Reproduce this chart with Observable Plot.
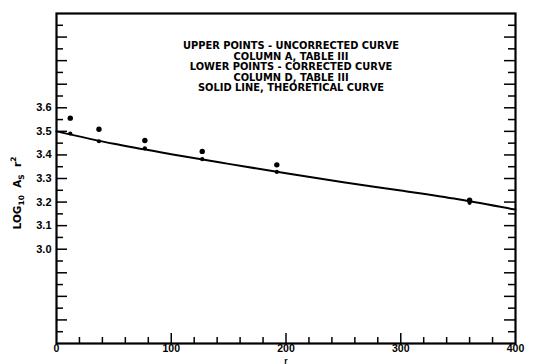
<!DOCTYPE html>
<html><head><meta charset="utf-8">
<script src="https://cdn.jsdelivr.net/npm/d3@7"></script>
<script src="https://cdn.jsdelivr.net/npm/@observablehq/plot@0.6"></script>
<style>html,body{margin:0;padding:0;background:#fff} svg{display:block}</style>
</head><body><div id="chart"></div>
<script>
// Measured points (r, log10 As r^2)
const rPoints = [12, 37, 77, 127, 192, 360];
const upperPoints = [3.556, 3.509, 3.461, 3.415, 3.358, 3.208];   // uncorrected, column A
const lowerPoints = [3.491, 3.458, 3.428, 3.382, 3.328, 3.197];   // corrected, column D
// Theoretical curve
const rTheory = [0, 50, 100, 150, 200, 250, 300, 350, 400];
const theory = [3.500, 3.447, 3.403, 3.362, 3.322, 3.284, 3.249, 3.212, 3.168];
// Tick values
const xTickLabels = [0, 100, 200, 300, 400];
const xMinorTicks = [20, 40, 60, 80, 120, 140, 160, 180, 220, 240, 260, 280, 320, 340, 360, 380];
const xMajorTicks = [100, 200, 300];
const yTickLabels = [3.0, 3.1, 3.2, 3.3, 3.4, 3.5, 3.6];
const yMajorTicks = [2.7, 2.8, 2.9, 3.0, 3.1, 3.2, 3.3, 3.4, 3.5, 3.6, 3.7, 3.8, 3.9];
const yMinorTicks = [2.65, 2.75, 2.85, 2.95, 3.05, 3.15, 3.25, 3.35, 3.45, 3.55, 3.65, 3.75, 3.85, 3.95];
const legendLines = [
  "UPPER POINTS - UNCORRECTED CURVE",
  "COLUMN A, TABLE III",
  "LOWER POINTS - CORRECTED CURVE",
  "COLUMN D, TABLE III",
  "SOLID LINE, THEORETICAL CURVE"
];

const W = 533, H = 364, mL = 56, mR = 18, mT = 13, mB = 21;
const innerW = W - mL - mR, innerH = H - mT - mB;

const upperData = rPoints.map((r, i) => ({r, v: upperPoints[i]}));
const lowerData = rPoints.map((r, i) => ({r, v: lowerPoints[i]}));
const theoryData = rTheory.map((r, i) => ({r, v: theory[i]}));

const chart = Plot.plot({
  width: W, height: H,
  marginLeft: mL, marginRight: mR, marginTop: mT, marginBottom: mB,
  style: {fontFamily: "'Liberation Sans', Arial, sans-serif", fontWeight: "bold", fontSize: "11px", background: "#fff", color: "#000"},
  x: {domain: [0, 400]},
  y: {domain: [2.6, 4.0]},
  marks: [
    Plot.tickX(xMinorTicks, {insetTop: innerH - 6, strokeWidth: 1.5}),
    Plot.tickX(xMajorTicks, {insetTop: innerH - 10, strokeWidth: 1.5}),
    Plot.tickY(yMinorTicks, {insetRight: innerW - 7, strokeWidth: 1.5}),
    Plot.tickY(yMajorTicks, {insetRight: innerW - 11, strokeWidth: 1.5}),
    Plot.tickY(yMinorTicks, {insetLeft: innerW - 7, strokeWidth: 1.5}),
    Plot.tickY(yMajorTicks, {insetLeft: innerW - 11, strokeWidth: 1.5}),
    Plot.frame({strokeWidth: 2.2}),
    Plot.axisX(xTickLabels, {tickSize: 0, tickPadding: 1, fontSize: 10.5, label: null}),
    Plot.axisX({ticks: [], tickSize: 0, label: "r", labelAnchor: "center", labelArrow: "none", labelOffset: 20, fontSize: 8.5}),
    Plot.axisY(yTickLabels, {tickSize: 0, tickPadding: 5, tickFormat: ".1f", label: null}),
    Plot.line(theoryData, {x: "r", y: "v", curve: "monotone-x", strokeWidth: 2}),
    Plot.dot(upperData, {x: "r", y: "v", r: 2.7, fill: "black", stroke: "none"}),
    Plot.dot(lowerData, {x: "r", y: "v", r: 2.1, fill: "black", stroke: "none"}),
    Plot.text([legendLines.join("\n")], {frameAnchor: "top", dx: 5, dy: 28, lineAnchor: "top", fontSize: 9.9, lineHeight: 1.07, fontWeight: "bold", fontFamily: "'DejaVu Sans', sans-serif"})
  ]
});

const svg = d3.select(chart);
const t = svg.append("text")
  .attr("transform", "translate(21,193) rotate(-90)")
  .attr("text-anchor", "middle")
  .attr("font-family", "'DejaVu Sans', sans-serif")
  .attr("font-weight", "bold")
  .attr("font-size", 10.5)
  .attr("fill", "black");
t.append("tspan").text("LOG");
t.append("tspan").attr("dy", 3).attr("font-size", 7.5).text("10");
t.append("tspan").attr("dy", -3).text("  A");
t.append("tspan").attr("dy", 3).attr("font-size", 7.5).text("S");
t.append("tspan").attr("dy", -3).text("  r");
t.append("tspan").attr("dy", -5).attr("font-size", 7.5).text("2");

document.getElementById("chart").appendChild(chart);
</script>
</body></html>
